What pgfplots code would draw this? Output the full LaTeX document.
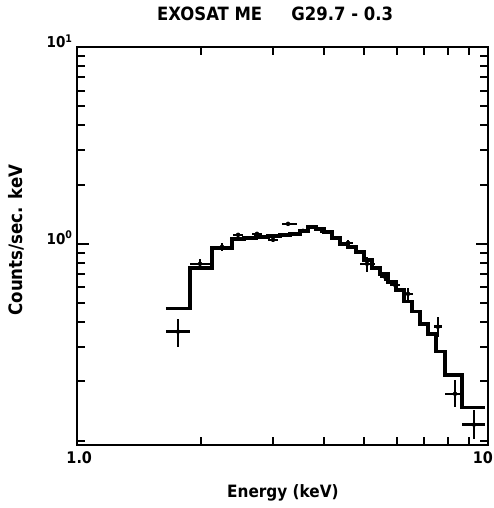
\documentclass[border=0pt]{standalone}
\usepackage{pgfplots}
\pgfplotsset{compat=1.18}
\usepackage{fontspec}
\setmainfont{DejaVu Sans Condensed}
\begin{document}
\begin{tikzpicture}
\useasboundingbox (-77bp,-63bp) rectangle (417bp,445bp);
\begin{axis}[
  at={(0,0)}, anchor=south west,
  scale only axis, width=411bp, height=398bp,
  xmode=log, ymode=log, xmin=1, xmax=10, ymin=0.095, ymax=10,
  axis line style={line width=2.5bp},
  tick style={line width=2bp, black},
  tick align=inside,
  major tick length=12bp, minor tick length=8bp,
  xtick={1,10}, xticklabels={\makebox[30bp][r]{1.0}, \makebox[10bp][r]{10}},
  minor xtick={2,3,4,5,6,7,8,9},
  ytick={1,10}, yticklabels={10\textsuperscript{0},10\textsuperscript{1}},
  minor ytick={0.1,0.2,0.3,0.4,0.5,0.6,0.7,0.8,0.9,2,3,4,5,6,7,8,9},
  xticklabel style={font=\fontsize{16bp}{18bp}\selectfont\bfseries, yshift=-3bp},
  yticklabel style={font=\fontsize{15bp}{17bp}\selectfont\bfseries, xshift=-1bp, yshift=6bp},
  clip=false,
]
\addplot[const plot, line width=3.5bp, black] coordinates {
(1.646,0.468) (1.884,0.755) (2.131,0.954) (2.383,1.060) (2.549,1.073)
(2.726,1.085) (2.915,1.098) (3.118,1.111) (3.298,1.124) (3.488,1.164)
(3.648,1.220) (3.815,1.191) (3.990,1.151) (4.173,1.073) (4.364,1.000)
(4.564,0.966) (4.773,0.911) (4.992,0.829) (5.221,0.755) (5.460,0.704)
(5.710,0.641) (5.972,0.584) (6.245,0.508) (6.532,0.452) (6.831,0.392)
(7.145,0.349) (7.471,0.283) (7.859,0.216) (8.644,0.147) (9.833,0.147)
};
\addplot[only marks, mark=none, black,
  error bars/.cd, x dir=both, y dir=both, x explicit, y explicit,
  error mark=none, error bar style={line width=2.5bp, black}]
table[x=x, y=y, x error plus=exp, x error minus=exm, y error plus=eyp, y error minus=eym] {
x     y      exp   exm   eyp    eym
1.761 0.358  0.123 0.115 0.058  0.058
1.992 0.792  0.139 0.108 0.047  0.046
2.254 0.966  0.129 0.123 0.046  0.045
2.466 1.111  0.070 0.070 0.030  0.030
2.741 1.124  0.080 0.080 0.030  0.030
2.999 1.048  0.090 0.090 0.030  0.030
3.262 1.263  0.160 0.110 0.030  0.030
3.546 1.164  0.100 0.100 0.030  0.030
4.012 1.151  0.120 0.120 0.030  0.030
4.564 1.012  0.130 0.130 0.030  0.030
5.077 0.792  0.233 0.195 0.067  0.071
5.615 0.680  0.150 0.150 0.030  0.030
5.939 0.619  0.160 0.160 0.035  0.035
6.388 0.557  0.180 0.180 0.040  0.040
7.554 0.379  0.170 0.170 0.047  0.042
8.314 0.173  0.330 0.455 0.031  0.024
9.246 0.1206 0.587 0.602 0.0231 0.0182
};
\node[font=\fontsize{18.3bp}{20bp}\selectfont\bfseries] at (axis description cs:0.482,1.083) {EXOSAT ME\hspace{1.6em}G29.7 - 0.3};
\node[font=\fontsize{17bp}{19bp}\selectfont\bfseries] at (axis description cs:0.501,-0.121) {Energy (keV)};
\node[font=\fontsize{18.5bp}{20bp}\selectfont\bfseries, rotate=90] at (axis description cs:-0.148,0.515) {Counts/sec. keV};
\end{axis}
\end{tikzpicture}
\end{document}
